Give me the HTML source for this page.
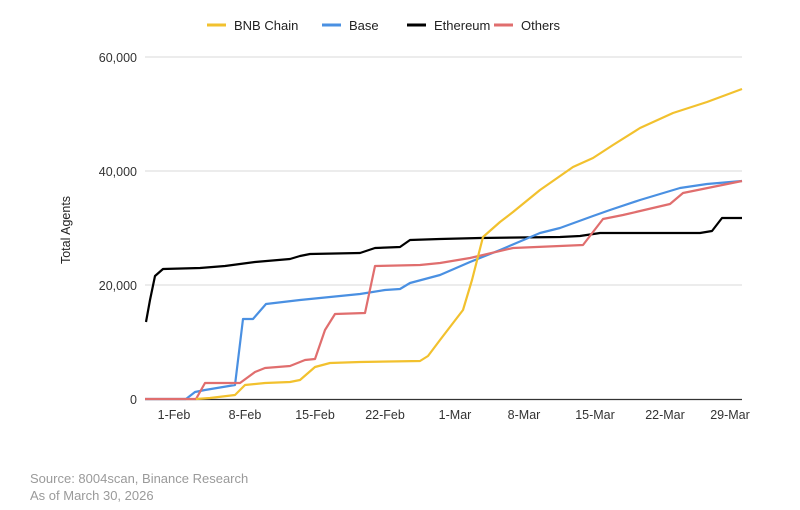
<!DOCTYPE html><html><head><style>body{margin:0;background:#fff}svg{display:block}text{font-family:"Liberation Sans",sans-serif}</style></head><body>
<svg width="800" height="510" xmlns="http://www.w3.org/2000/svg">
<g stroke="#d9d9d9" stroke-width="1"><line x1="145" x2="742" y1="57" y2="57"/><line x1="145" x2="742" y1="171" y2="171"/><line x1="145" x2="742" y1="285" y2="285"/></g>
<line x1="145" x2="742" y1="399.5" y2="399.5" stroke="#333" stroke-width="1.2"/>
<g font-size="12.5" fill="#333" text-anchor="end"><text x="137" y="62">60,000</text><text x="137" y="176">40,000</text><text x="137" y="290">20,000</text><text x="137" y="404">0</text></g>
<text transform="translate(70,230) rotate(-90)" font-size="12.5" fill="#222" text-anchor="middle">Total Agents</text>
<g font-size="12.5" fill="#333" text-anchor="middle"><text x="174" y="419">1-Feb</text><text x="245" y="419">8-Feb</text><text x="315" y="419">15-Feb</text><text x="385" y="419">22-Feb</text><text x="455" y="419">1-Mar</text><text x="524" y="419">8-Mar</text><text x="595" y="419">15-Mar</text><text x="665" y="419">22-Mar</text><text x="730" y="419">29-Mar</text></g>
<g fill="none" stroke-width="2.2" stroke-linejoin="round">
<polyline stroke="#000" points="146,322 150,300 155,276 163,269 200,268 225,266 255,262 290,259 300,256 310,254 360,253 375,248 400,247 410,240 440,239 480,238 560,237 580,236 600,233 700,233 712,231 722,218 742,218"/>
<polyline stroke="#4a90e2" points="145,399 186,399 195,392 205,390 235,385 243,319 253,319 266,304 300,300 330,297 360,294 385,290 400,289 410,283 440,275 470,262 500,250 540,233 560,228 593,216 610,210 640,200 680,188 707,184 742,181"/>
<polyline stroke="#e06e6e" points="145,399 196,399 205,383 240,383 255,372 265,368 290,366 305,360 315,359 325,330 335,314 365,313 375,266 420,265 440,263 470,258 513,248 583,245 603,219 623,215 670,204 683,193 742,181"/>
<polyline stroke="#f2c12e" points="196,399 210,398 235,395 245,385 265,383 290,382 300,380 315,367 330,363 360,362 420,361 428,356 440,340 463,310 472,280 483,237 500,222 513,212 540,190 573,167 593,158 613,145 640,128 673,113 707,102 742,89"/>
</g>
<g font-size="13" fill="#222">
<line x1="207" x2="226" y1="25" y2="25" stroke="#f2c12e" stroke-width="3"/><text x="234" y="30">BNB Chain</text>
<line x1="322" x2="341" y1="25" y2="25" stroke="#4a90e2" stroke-width="3"/><text x="349" y="30">Base</text>
<line x1="407" x2="426" y1="25" y2="25" stroke="#000" stroke-width="3"/><text x="434" y="30">Ethereum</text>
<line x1="494" x2="513" y1="25" y2="25" stroke="#e06e6e" stroke-width="3"/><text x="521" y="30">Others</text>
</g>
<g font-size="13" fill="#9a9a9a"><text x="30" y="483">Source: 8004scan, Binance Research</text><text x="30" y="500">As of March 30, 2026</text></g>
</svg></body></html>
